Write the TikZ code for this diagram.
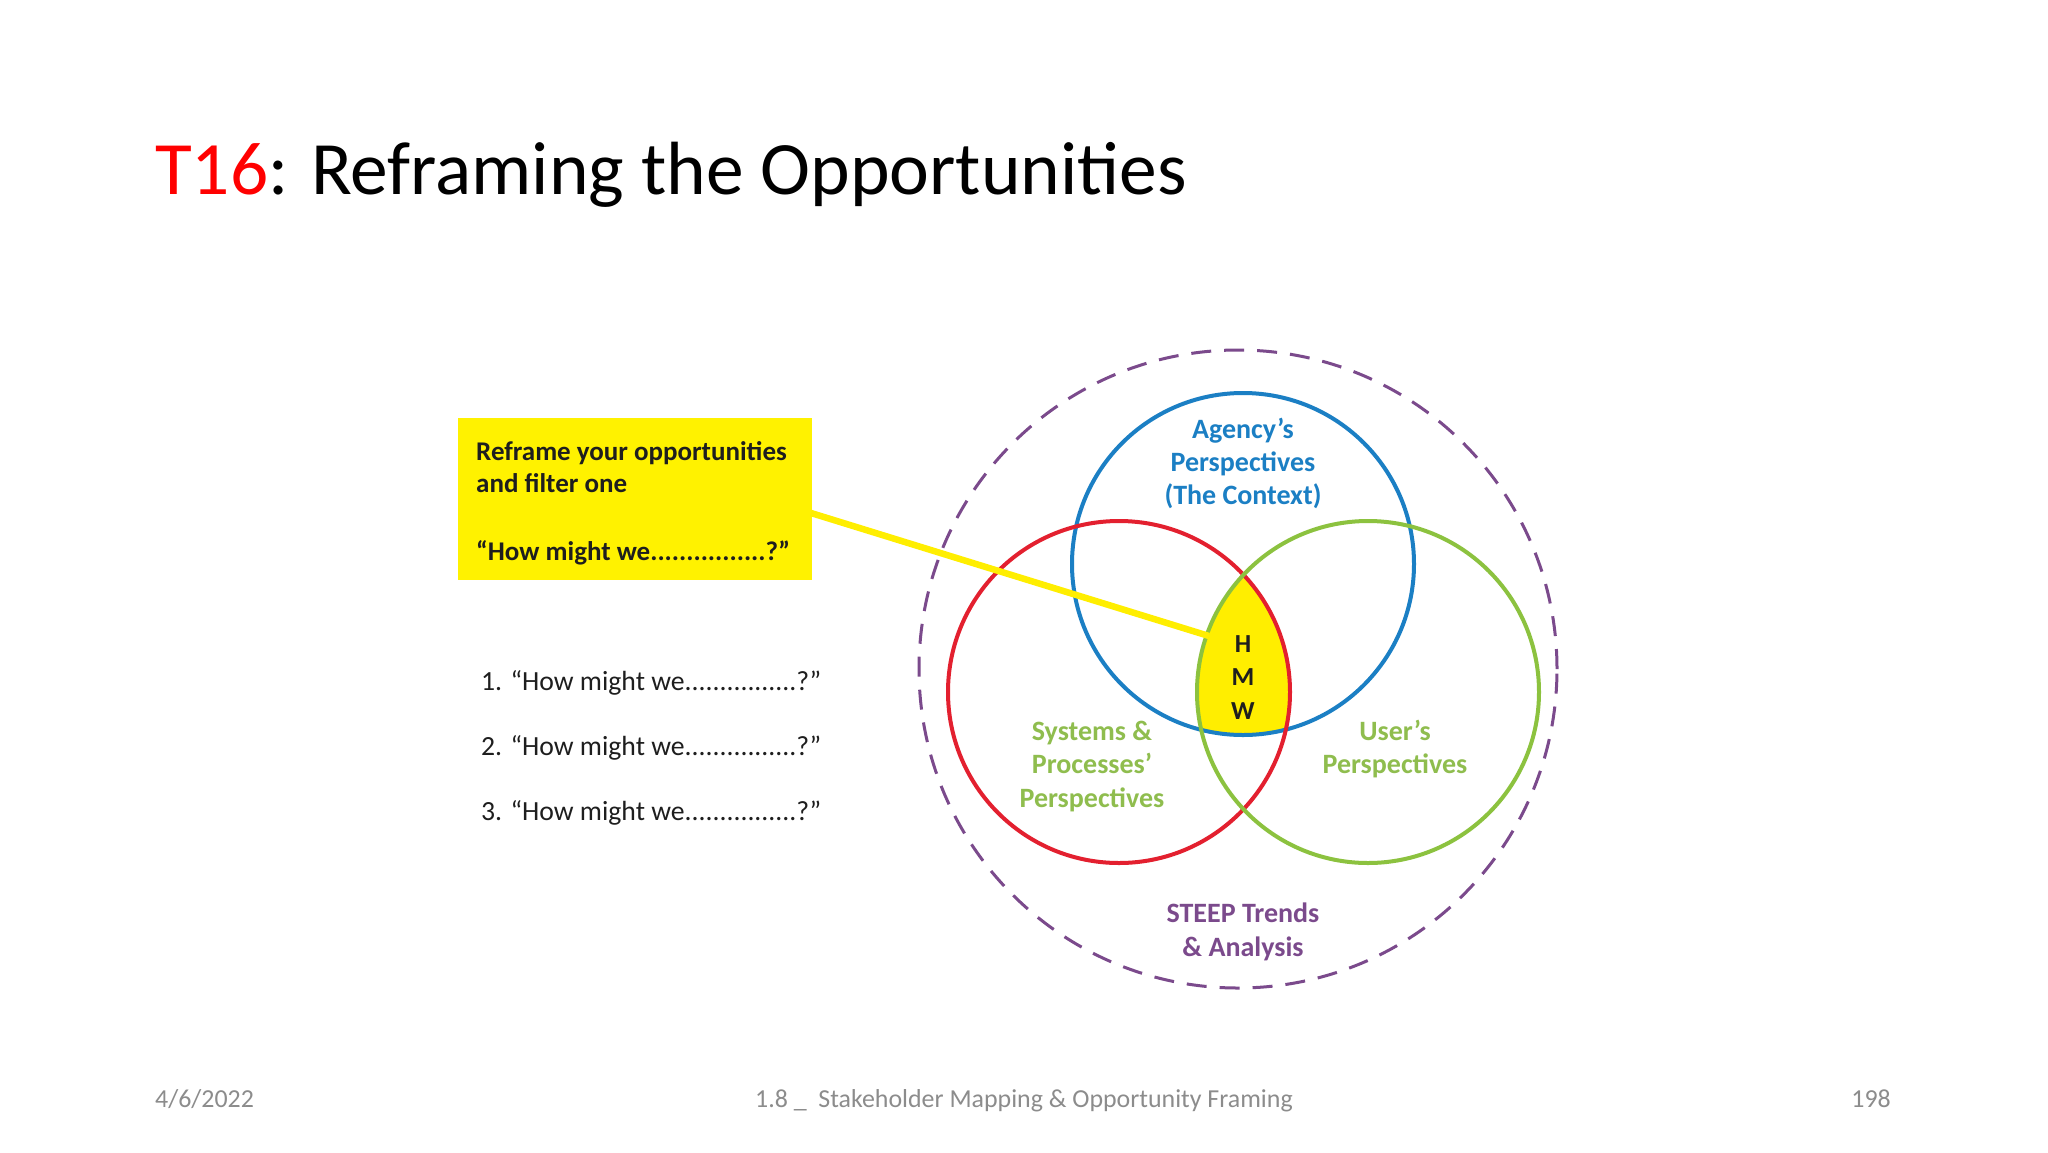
\documentclass[tikz,border=0pt]{standalone}
\usepackage{fontspec}
\setmainfont{Carlito}
\definecolor{cblue}{HTML}{1B7FC4}
\definecolor{cred}{HTML}{E3202F}
\definecolor{cgreen}{HTML}{8CC23F}
\definecolor{tgreen}{HTML}{8FBD4E}
\definecolor{cpurple}{HTML}{7B4A8C}
\definecolor{cyellow}{HTML}{FFEE00}
\definecolor{boxyellow}{HTML}{FFF200}
\definecolor{footgray}{HTML}{8C8C8C}
\definecolor{txtdark}{HTML}{1E1E1E}
\begin{document}
\begin{tikzpicture}[x=1pt,y=-1pt,
  ring/.style={circle, draw, line width=4pt, minimum size=342pt, inner sep=0pt},
  lbl/.style={anchor=base, inner sep=0pt, font=\fontsize{28}{33}\selectfont\bfseries},
  hmw/.style={anchor=base, inner sep=0pt, text=txtdark, font=\fontsize{26}{32}\selectfont\bfseries},
  boxtxt/.style={anchor=base west, inner sep=0pt, text=txtdark, font=\fontsize{27}{33}\selectfont\bfseries},
  listtxt/.style={anchor=base west, inner sep=0pt, text=txtdark, font=\fontsize{27.7}{33}\selectfont},
  foot/.style={anchor=base, inner sep=0pt, text=footgray, font=\fontsize{25.9}{30}\selectfont},
  conn/.style={draw=cyellow, line width=6.5pt}
]
\useasboundingbox[fill=white] (0,0) rectangle (2048,1152);

% title
\node[anchor=base west, inner sep=0pt, font=\fontsize{75.4}{90}\selectfont] (title) at (155,194)
  {\textcolor{red}{T16}: Reframing the Opportunities};

% yellow box
\node[fill=boxyellow, minimum width=354pt, minimum height=162pt, anchor=north west, inner sep=0pt] (box) at (458,418) {};
\node[boxtxt] (b1) at (476,460) {Reframe your opportunities};
\node[boxtxt] (b2) at (476,492) {and filter one};
\node[boxtxt] (b3) at (476,560) {“How might we................?”};

% list
\node[listtxt] (l1) at (481,690) {1. “How might we................?”};
\node[listtxt] (l2) at (481,755) {2. “How might we................?”};
\node[listtxt] (l3) at (481,820) {3. “How might we................?”};

% HMW fill
\begin{scope}
  \clip (1243,564) circle[radius=171];
  \clip (1119,692) circle[radius=171];
  \fill[cyellow] (1368,692) circle[radius=171];
\end{scope}

% circles
\node[circle, draw=cpurple, line width=3pt, dash pattern=on 20pt off 13pt, minimum size=638pt, inner sep=0pt] (outer) at (1238,669) {};
\node[ring, draw=cblue] (agency) at (1243,564) {};
\node[ring, draw=cred] (systems) at (1119,692) {};
\node[ring, draw=cgreen] (users) at (1368,692) {};

% connector
\coordinate (lstart) at (811,513);
\coordinate (hmwpt) at (1209,636);
\draw[conn] (lstart) -- (hmwpt);

% HMW letters
\node[hmw] (h) at (1243,652) {H};
\node[hmw] (m) at (1243,685) {M};
\node[hmw] (w) at (1243,719) {W};

% labels
\node[lbl, text=cblue] (a1) at (1243,438) {Agency’s};
\node[lbl, text=cblue] (a2) at (1243,471) {Perspectives};
\node[lbl, text=cblue] (a3) at (1243,504) {(The Context)};

\node[lbl, text=tgreen] (s1) at (1092,740) {Systems \&};
\node[lbl, text=tgreen] (s2) at (1092,773) {Processes’};
\node[lbl, text=tgreen] (s3) at (1092,807) {Perspectives};

\node[lbl, text=tgreen] (u1) at (1395,740) {User’s};
\node[lbl, text=tgreen] (u2) at (1395,773) {Perspectives};

\node[lbl, text=cpurple] (t1) at (1243,922) {STEEP Trends};
\node[lbl, text=cpurple] (t2) at (1243,956) {\& Analysis};

% footer
\node[foot, anchor=base west] (date) at (155,1107) {4/6/2022};
\node[foot] (mid) at (1024,1107) {1.8 \_\ \ Stakeholder Mapping \& Opportunity Framing};
\node[foot, anchor=base east] (pg) at (1891,1107) {198};
\end{tikzpicture}
\end{document}
